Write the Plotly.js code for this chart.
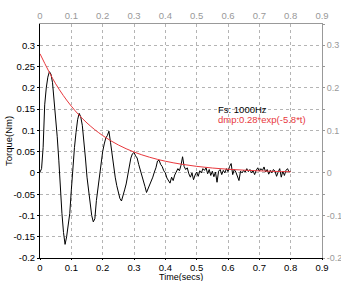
<!DOCTYPE html>
<html>
<head>
<meta charset="utf-8">
<script src="https://cdn.plot.ly/plotly-3.0.1.min.js"></script>
<style>html,body{margin:0;padding:0;background:#fff;}#chart{width:341px;height:281px;}</style>
</head>
<body>
<div id="chart"></div>
<script>
const timeStart = 0;
const timeStep = 0.005;
const torque = [
 0.002, 0.010, 0.060, 0.160, 0.200, 0.225, 0.238, 0.232, 0.212, 0.175,
 0.130, 0.085, 0.030, -0.040, -0.095, -0.140, -0.168, -0.150, -0.125, -0.095,
 -0.040, 0.020, 0.060, 0.095, 0.125, 0.140, 0.132, 0.112, 0.080, 0.035,
 -0.010, -0.045, -0.080, -0.100, -0.115, -0.108, -0.065, -0.035, -0.009, 0.020,
 0.050, 0.068, 0.082, 0.088, 0.098, 0.072, 0.040, 0.018, -0.010, -0.030,
 -0.048, -0.060, -0.066, -0.055, -0.040, -0.026, -0.005, 0.018, 0.035, 0.045,
 0.048, 0.040, 0.035, 0.020, 0.008, -0.005, -0.020, -0.032, -0.046, -0.038,
 -0.030, -0.018, -0.010, 0.002, 0.012, 0.028, 0.030, 0.020, 0.015, 0.005,
 0.000, -0.012, -0.020, -0.024, -0.010, -0.018, -0.005, 0.002, 0.010, 0.005,
 0.018, 0.038, 0.015, 0.008, 0.012, -0.002, -0.010, 0.000, -0.016, -0.005,
 0.002, -0.008, 0.005, 0.000, 0.010, 0.006, 0.012, -0.002, 0.008, -0.006,
 0.004, -0.009, 0.002, -0.022, 0.004, 0.008, -0.004, 0.006, 0.000, 0.010,
 0.003, 0.015, 0.022, -0.004, 0.008, 0.002, -0.006, -0.018, 0.004, 0.000,
 0.006, 0.002, 0.010, 0.003, 0.008, 0.000, 0.005, -0.004, 0.006, 0.012,
 0.004, 0.010, 0.006, 0.014, 0.002, 0.008, -0.003, 0.006, 0.000, 0.008,
 0.004, -0.008, 0.002, 0.010, -0.010, 0.004, -0.006, 0.006, 0.010, 0.002,
 0.004
];
// Damping envelope dmp = 0.28*exp(-5.8*t), values read at 0.05 s steps
const envTime = [0, 0.05, 0.1, 0.15, 0.2, 0.25, 0.3, 0.35, 0.4, 0.45, 0.5, 0.55, 0.6, 0.65, 0.7, 0.75, 0.8];
const envValue = [0.280, 0.2095, 0.1568, 0.1173, 0.0878, 0.0657, 0.0491, 0.0368, 0.0275, 0.0206, 0.0154, 0.0115, 0.0086, 0.0065, 0.0048, 0.0036, 0.0027];
const xTicks = [0, 0.1, 0.2, 0.3, 0.4, 0.5, 0.6, 0.7, 0.8, 0.9];
const yTicksLeft = [-0.2, -0.15, -0.1, -0.05, 0, 0.05, 0.1, 0.15, 0.2, 0.25, 0.3];
const yTicksRight = [-0.2, -0.1, 0, 0.1, 0.2, 0.3];
const labelFs = "Fs: 1000Hz";
const labelDmp = "dmp:0.28*exp(-5.8*t)";
const xTitle = "Time(secs)";
const yTitle = "Torque(Nm)";

const t = torque.map((_, i) => +(timeStart + i * timeStep).toFixed(3));
const FONT = "Liberation Sans, Arial, sans-serif";
const gridDash = "3px,3px";

const traces = [
  {x: t, y: torque, type: "scatter", mode: "lines", line: {color: "#000", width: 1}, hoverinfo: "skip"},
  {x: envTime, y: envValue, type: "scatter", mode: "lines", line: {color: "#e8383d", width: 1, shape: "spline"}, hoverinfo: "skip"},
  {x: [0], y: [0], xaxis: "x2", yaxis: "y2", mode: "markers", marker: {opacity: 0}, hoverinfo: "skip"}
];

const layout = {
  width: 341, height: 281,
  margin: {l: 40, r: 19, t: 24, b: 23},
  paper_bgcolor: "#fff", plot_bgcolor: "#fff",
  showlegend: false,
  font: {family: FONT, size: 9.5, color: "#000"},
  xaxis: {
    range: [0, 0.9], tickvals: xTicks, ticktext: xTicks.map(String),
    showgrid: true, gridcolor: "#b4b4b4", griddash: gridDash, gridwidth: 1,
    zeroline: false, showline: true, linecolor: "#000", linewidth: 1,
    ticks: "outside", ticklen: 1, tickcolor: "#000",
    tickfont: {family: FONT, size: 9.5, color: "#000"},
    automargin: false, fixedrange: true
  },
  yaxis: {
    range: [-0.2, 0.35], tickvals: yTicksLeft, ticktext: yTicksLeft.map(String),
    showgrid: true, gridcolor: "#b4b4b4", griddash: gridDash, gridwidth: 1,
    zeroline: false, showline: true, linecolor: "#000", linewidth: 1,
    ticks: "outside", ticklen: 2, tickcolor: "#000",
    tickfont: {family: FONT, size: 9.5, color: "#000"},
    automargin: false, fixedrange: true
  },
  xaxis2: {
    overlaying: "x", side: "top", range: [0, 0.9], tickvals: xTicks, ticktext: xTicks.map(String),
    showgrid: false, zeroline: false, showline: true, linecolor: "#999", linewidth: 1,
    ticks: "", tickfont: {family: FONT, size: 9.5, color: "#999"}, automargin: false, fixedrange: true
  },
  yaxis2: {
    overlaying: "y", side: "right", range: [-0.2, 0.35], tickvals: yTicksRight, ticktext: yTicksRight.map(String),
    showgrid: false, zeroline: false, showline: true, linecolor: "#999", linewidth: 1,
    ticks: "outside", ticklen: 2, tickcolor: "#999",
    minor: {dtick: 0.05, tick0: 0, ticks: "outside", ticklen: 2, tickcolor: "#999", showgrid: false},
    tickfont: {family: FONT, size: 9, color: "#999"}, automargin: false, fixedrange: true
  },
  annotations: [
    {x: 0.563, y: 0.149, xref: "x", yref: "y", text: labelFs, showarrow: false, xanchor: "left", yanchor: "middle",
     font: {family: FONT, size: 9.5, color: "#000"}},
    {x: 0.561, y: 0.125, xref: "x", yref: "y", text: labelDmp, showarrow: false, xanchor: "left", yanchor: "middle",
     font: {family: FONT, size: 9.5, color: "#e8383d"}},
    {x: 0.5, y: 0, xref: "paper", yref: "paper", yshift: -11.5, text: xTitle, showarrow: false, xanchor: "center", yanchor: "top",
     font: {family: FONT, size: 9, color: "#000"}},
    {x: 0, y: 0.5, xref: "paper", yref: "paper", xshift: -32, text: yTitle, textangle: -90, showarrow: false, xanchor: "center", yanchor: "middle",
     font: {family: FONT, size: 9.5, color: "#000"}}
  ]
};

Plotly.newPlot("chart", traces, layout, {displayModeBar: false, staticPlot: true});
</script>
</body>
</html>
